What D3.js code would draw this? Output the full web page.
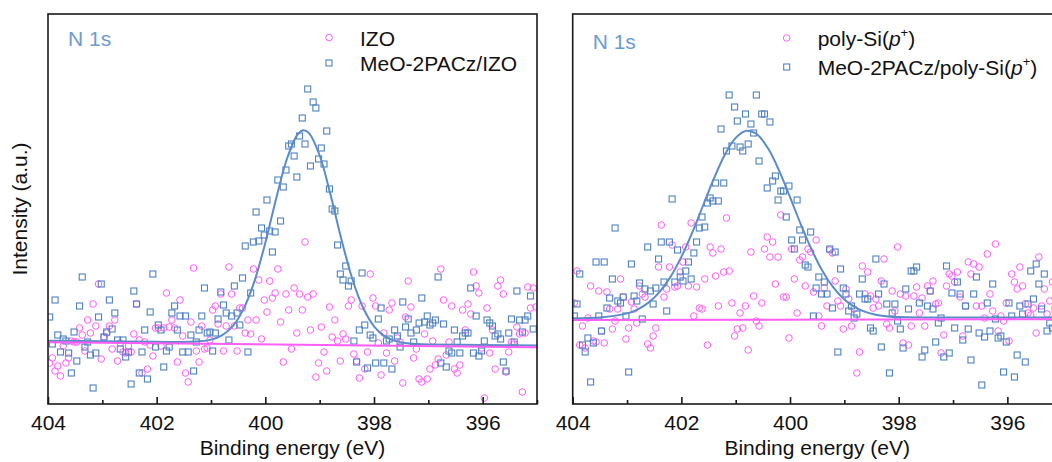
<!DOCTYPE html>
<html>
<head>
<meta charset="utf-8">
<script src="https://cdn.jsdelivr.net/npm/d3@7"></script>
<style>
  body { margin: 0; background: #fff; }
  svg { display: block; font-family: "Liberation Sans", Arial, sans-serif; }
</style>
</head>
<body>
<div id="chart"></div>
<script>
// energy grid of the scans (eV), same for all four spectra
var eStart = 403.97, eStep = 0.05;

// left panel: IZO (circles) and MeO-2PACz/IZO (squares), intensity in a.u.
var izoLeft = [41,46,33,38,28,58,41,46,63,62,62,76,69,53,84,71,100,78,120,45,
  67,71,78,55,84,43,61,52,51,58,52,70,100,64,31,62,35,59,48,76,
  76,58,76,111,77,84,76,42,104,68,31,22,82,136,53,42,78,55,56,64,
  94,98,80,110,53,78,137,110,78,53,96,96,71,84,70,135,84,124,65,104,
  92,123,106,111,135,82,42,110,94,55,116,71,110,94,162,107,74,110,27,41,
  77,52,33,97,67,84,63,43,70,65,98,104,50,43,26,98,35,52,130,106,
  98,61,29,71,51,94,101,43,66,62,21,87,123,97,46,55,25,22,70,25,
  35,63,39,45,135,104,49,62,98,35,31,39,94,74,100,90,132,118,111,56,
  6,96,51,74,35,118,124,110,32,52,62,60,77,70,12,71,117,96,116,97];

var meoLeft = [87,60,104,69,52,65,63,51,31,72,43,98,127,57,62,49,16,51,87,120,
  67,72,104,75,91,64,55,64,47,52,20,113,100,31,52,74,25,92,130,57,
  79,74,37,53,57,91,98,74,88,52,88,52,69,33,62,74,88,116,71,72,
  53,71,85,112,99,91,64,88,118,91,79,126,158,52,111,162,192,163,176,169,
  204,173,152,172,224,183,217,234,258,260,248,227,268,286,260,315,238,302,296,245,
  256,240,273,215,195,193,159,130,124,138,118,123,63,42,74,131,79,36,69,66,
  41,85,96,41,63,65,35,74,68,57,102,77,85,71,62,74,81,106,82,88,
  79,81,84,127,41,80,37,53,51,74,62,51,68,71,71,116,51,88,48,53,
  63,84,81,78,68,70,65,42,33,71,85,62,113,84,72,84,88,108,75];

// right panel: poly-Si(p+) (circles) and MeO-2PACz/poly-Si(p+) (squares)
var polyRight = [101,133,59,78,56,86,118,63,62,113,73,61,112,95,75,83,95,125,107,65,
  76,102,95,81,118,110,107,60,56,68,76,137,179,107,115,137,159,117,118,132,
  142,157,118,181,88,117,96,95,125,59,157,151,128,98,155,132,186,133,101,68,
  75,91,76,98,54,152,108,83,78,101,155,167,147,162,120,147,189,107,107,66,
  155,125,91,144,147,118,155,152,112,164,88,78,116,98,154,151,123,103,98,75,
  115,105,78,95,31,52,138,110,132,108,96,105,98,123,145,80,76,113,93,157,
  110,61,108,59,78,108,117,91,106,78,118,113,123,100,101,51,69,118,130,128,
  122,132,107,68,98,142,130,140,98,137,98,86,150,110,93,160,73,88,83,101,
  63,130,122,115,137,118,100,91,89,96,71,147,98,115,90,103,122,105,96];

var meoRight = [88,100,130,59,52,66,22,61,142,88,73,142,96,106,125,176,103,101,107,88,
  32,140,108,103,121,85,115,157,113,100,116,145,162,122,93,162,205,122,154,127,
  123,133,142,125,151,162,176,187,177,201,206,203,221,203,275,221,253,309,258,297,
  283,257,253,290,260,280,271,309,243,290,290,216,282,223,228,204,213,213,187,218,
  164,155,204,174,164,139,137,172,88,116,127,110,122,110,155,96,152,52,135,116,
  110,93,98,86,90,110,125,105,105,76,73,145,110,57,120,100,31,91,100,83,
  75,56,115,95,133,133,137,101,47,54,98,113,95,62,81,86,47,138,51,111,
  76,122,110,64,98,75,44,110,127,71,19,67,101,73,120,85,66,68,32,62,
  101,88,27,49,98,90,42,100,133,105,140,120,95,130,73,81,76,95,88];

// fitted peak envelopes
var fitEnergyLeft = [404,403,402,401.8,401.6,401.4,401.2,401.0,400.8,400.6,400.4,400.2,400.0,399.8,399.6,399.4,399.3,399.2,399.0,398.8,398.6,398.4,398.2,398.0,397.8,397.6,397.4,397.2,397.0,396.0,395.0];
var fitLeft = [63.3,62.8,62.2,62.1,62.1,62.2,62.7,64.4,68.6,77.8,95.1,122.9,161.3,205.4,245.5,270.0,273.8,271.1,248.5,209.2,164.8,125.3,96.2,77.7,67.7,62.9,60.8,60.0,59.6,59.0,58.5];
var fitEnergyRight = [404,403.5,403.0,402.8,402.6,402.4,402.2,402.0,401.8,401.6,401.4,401.2,401.0,400.8,400.6,400.4,400.2,400.0,399.8,399.6,399.4,399.2,399.0,398.8,398.6,398.4,398.2,398.0,397.5,396.0,395.0];
var fitRight = [85.8,86.5,90.6,94.7,101.6,112.1,127.1,147.1,171.4,198.5,225.6,249.3,266.1,273.2,269.3,255.2,233.2,206.8,179.4,154.1,132.7,116.3,104.5,96.7,91.9,89.1,87.6,86.9,86.5,86.4,86.5];

// flat backgrounds of the bare substrates
var baseEnergy = [404, 395];
var baseLeft = [61.8, 56.7];
var baseRight = [84.0, 84.7];

var xTicks = [404, 402, 400, 398, 396];
var xMinor = [403, 401, 399, 397, 395];

var pink = "#ff5cf8", blue = "#4f82c2", lineBlue = "#5a8cc8", titleBlue = "#6b9bd3";

var W = 1052, H = 462;
var top_ = 14, bottom = 404, panelW = 489;

var svg = d3.select("#chart")
  .append("svg")
    .attr("width", W)
    .attr("height", H);

function toPoints(vals) {
  return vals.map(function(v, i) { return { e: eStart - eStep * i, v: v }; });
}

function zipXY(es, vs) {
  return es.map(function(e, i) { return { e: e, v: vs[i] }; });
}

function drawPanel(opt) {
  var x = d3.scaleLinear().domain([404, 395]).range([opt.left, opt.left + panelW]);
  var y = d3.scaleLinear().domain([0, 390]).range([bottom, top_]);

  var g = svg.append("g");

  // clip everything to the plot frame
  g.append("defs").append("clipPath")
      .attr("id", opt.id)
    .append("rect")
      .attr("x", opt.left).attr("y", top_)
      .attr("width", panelW).attr("height", bottom - top_);

  var plot = g.append("g").attr("clip-path", "url(#" + opt.id + ")");

  // substrate: open circles
  plot.append("g").selectAll("circle")
    .data(toPoints(opt.circles))
    .enter().append("circle")
      .attr("cx", function(d) { return x(d.e); })
      .attr("cy", function(d) { return y(d.v); })
      .attr("r", 3.3)
      .attr("fill", "none")
      .attr("stroke", pink)
      .attr("stroke-width", 1);

  // MeO-2PACz: open squares
  plot.append("g").selectAll("rect")
    .data(toPoints(opt.squares))
    .enter().append("rect")
      .attr("x", function(d) { return x(d.e) - 3; })
      .attr("y", function(d) { return y(d.v) - 3; })
      .attr("width", 6).attr("height", 6)
      .attr("fill", "none")
      .attr("stroke", blue)
      .attr("stroke-width", 1.1);

  var line = d3.line()
    .x(function(d) { return x(d.e); })
    .y(function(d) { return y(d.v); });

  plot.append("path")
    .datum(zipXY(opt.fitE, opt.fit))
    .attr("d", line.curve(d3.curveCatmullRom.alpha(0.5)))
    .attr("fill", "none")
    .attr("stroke", lineBlue)
    .attr("stroke-width", 2);

  plot.append("path")
    .datum(zipXY(baseEnergy, opt.base))
    .attr("d", line.curve(d3.curveLinear))
    .attr("fill", "none")
    .attr("stroke", pink)
    .attr("stroke-width", 2);

  // frame
  g.append("rect")
    .attr("x", opt.left).attr("y", top_)
    .attr("width", panelW).attr("height", bottom - top_)
    .attr("fill", "none")
    .attr("stroke", "#1a1a1a")
    .attr("stroke-width", 1.6);

  // bottom axis, ticks pointing inward
  var ax = g.append("g")
    .attr("transform", "translate(0," + bottom + ")")
    .call(d3.axisBottom(x).tickValues(xTicks).tickFormat(d3.format("d"))
      .tickSizeInner(-7).tickSizeOuter(0).tickPadding(11));
  ax.select(".domain").remove();
  ax.selectAll("line").attr("stroke", "#1a1a1a").attr("stroke-width", 1.6);
  ax.selectAll("text").attr("font-size", 21).attr("fill", "#111")
    .attr("font-family", "'Liberation Sans', Arial, sans-serif");

  var axm = g.append("g")
    .attr("transform", "translate(0," + bottom + ")")
    .call(d3.axisBottom(x).tickValues(xMinor).tickFormat("")
      .tickSizeInner(-4).tickSizeOuter(0));
  axm.select(".domain").remove();
  axm.selectAll("line").attr("stroke", "#1a1a1a").attr("stroke-width", 1.6);

  g.append("text")
    .attr("x", opt.left + panelW / 2)
    .attr("y", 455)
    .attr("text-anchor", "middle")
    .attr("font-size", 21)
    .attr("fill", "#111")
    .text("Binding energy (eV)");

  // core level label
  g.append("text")
    .attr("x", opt.left + 20)
    .attr("y", opt.titleY)
    .attr("font-size", 21)
    .attr("fill", titleBlue)
    .text("N 1s");

  // legend
  var lg = g.append("g");
  lg.append("circle")
    .attr("cx", opt.legX).attr("cy", opt.legY[0])
    .attr("r", 3.3)
    .attr("fill", "none").attr("stroke", pink);
  lg.append("rect")
    .attr("x", opt.legX - 3).attr("y", opt.legY[1] - 3)
    .attr("width", 6).attr("height", 6)
    .attr("fill", "none").attr("stroke", blue).attr("stroke-width", 1.1);

  opt.labels.forEach(function(parts, k) {
    var t = lg.append("text")
      .attr("x", opt.legX + 31)
      .attr("y", opt.legY[k] + 8)
      .attr("font-size", 21)
      .attr("fill", "#111");
    parts.forEach(function(p) {
      var s = t.append("tspan").text(p.t);
      if (p.i) s.attr("font-style", "italic");
      if (p.sup) s.attr("font-size", 13).attr("dy", -9);
      if (p.down) s.attr("dy", 9);
    });
  });
}

drawPanel({
  id: "clipL", left: 48, titleY: 46,
  circles: izoLeft, squares: meoLeft,
  fitE: fitEnergyLeft, fit: fitLeft, base: baseLeft,
  legX: 329, legY: [37.5, 63],
  labels: [
    [{ t: "IZO" }],
    [{ t: "MeO-2PACz/IZO" }]
  ]
});

drawPanel({
  id: "clipR", left: 572.7, titleY: 49,
  circles: polyRight, squares: meoRight,
  fitE: fitEnergyRight, fit: fitRight, base: baseRight,
  legX: 786.7, legY: [38, 67],
  labels: [
    [{ t: "poly-Si(" }, { t: "p", i: true }, { t: "+", sup: true }, { t: ")", down: true }],
    [{ t: "MeO-2PACz/poly-Si(" }, { t: "p", i: true }, { t: "+", sup: true }, { t: ")", down: true }]
  ]
});

// shared y label
svg.append("text")
  .attr("transform", "translate(27,209) rotate(-90)")
  .attr("text-anchor", "middle")
  .attr("font-size", 21)
  .attr("fill", "#111")
  .text("Intensity (a.u.)");
</script>
</body>
</html>
